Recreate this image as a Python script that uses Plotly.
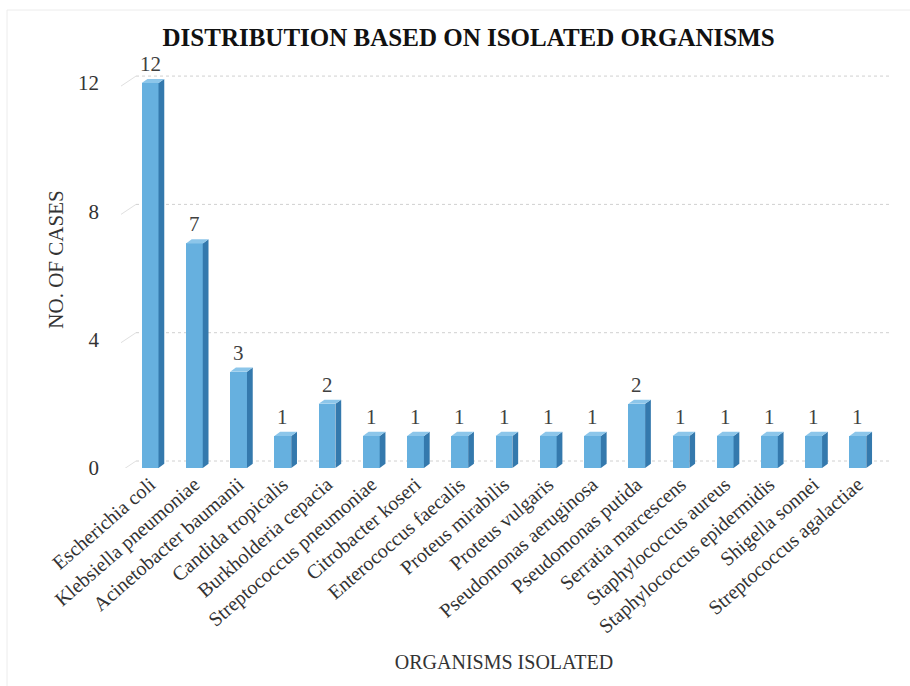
import plotly.graph_objects as go

# Isolated organisms and number of cases
organisms = [
    "Escherichia coli", "Klebsiella pneumoniae", "Acinetobacter baumanii",
    "Candida tropicalis", "Burkholderia cepacia", "Streptococcus pneumoniae",
    "Citrobacter koseri", "Enterococcus faecalis", "Proteus mirabilis",
    "Proteus vulgaris", "Pseudomonas aeruginosa", "Pseudomonas putida",
    "Serratia marcescens", "Staphylococcus aureus", "Staphylococcus epidermidis",
    "Shigella sonnei", "Streptococcus agalactiae",
]
cases = [12, 7, 3, 1, 2, 1, 1, 1, 1, 1, 1, 2, 1, 1, 1, 1, 1]
y_ticks = [0, 4, 8, 12]

FONT = "Liberation Serif"
FRONT = "#66B0DF"
SIDE = "#3479AD"
TOP = "#8CC6EA"
BAR_W = 0.38      # front face width (category units)
DEPTH_X = 0.13    # depth of the side face (category units)
DEPTH_Y = 0.13    # depth of the top face (value units)

# plot-area geometry in pixels
W, H = 910, 686
ML, MR, MT, MB = 128, 30, 51, 218
plot_w = W - ML - MR
plot_h = H - MT - MB

x_idx = list(range(len(organisms)))

fig = go.Figure()

fig.add_trace(go.Bar(
    x=x_idx, y=cases, width=BAR_W,
    marker=dict(color=FRONT, line=dict(width=0)),
    cliponaxis=False, hoverinfo="skip",
))

# value labels above each column
annotations = [
    dict(x=i, y=v, xref="x", yref="y", text=str(v), showarrow=False,
         xanchor="center", yanchor="bottom", yshift=5,
         font=dict(family=FONT, size=21, color="#404040"))
    for i, v in zip(x_idx, cases)
]

shapes = []


def px_to_paper_x(px):
    return (px - ML) / plot_w


def px_to_paper_y(py):
    return (H - MB - py) / plot_h


# back-wall gridlines with the short side-wall stubs
for v in y_ticks:
    shapes.append(dict(
        type="line", xref="paper", yref="y", ysizemode="pixel", yanchor=v,
        x0=px_to_paper_x(136), x1=px_to_paper_x(890), y0=7, y1=7,
        line=dict(color="#d0d0d0", width=1, dash="dot"), layer="below",
    ))
    shapes.append(dict(
        type="line", xref="paper", yref="y", ysizemode="pixel", yanchor=v,
        x0=px_to_paper_x(121), x1=px_to_paper_x(136), y0=-3, y1=7,
        line=dict(color="#e0e0e0", width=1), layer="below",
    ))

# side and top faces of each column
for i, v in zip(x_idx, cases):
    xr = i + BAR_W / 2
    xl = i - BAR_W / 2
    side = (f"M {xr},0 L {xr + DEPTH_X},{DEPTH_Y} L {xr + DEPTH_X},{v + DEPTH_Y} "
            f"L {xr},{v} Z")
    top = (f"M {xl},{v} L {xr},{v} L {xr + DEPTH_X},{v + DEPTH_Y} "
           f"L {xl + DEPTH_X},{v + DEPTH_Y} Z")
    shapes.append(dict(type="path", xref="x", yref="y", path=side,
                       fillcolor=SIDE, line=dict(width=0), layer="above"))
    shapes.append(dict(type="path", xref="x", yref="y", path=top,
                       fillcolor=TOP, line=dict(width=0), layer="above"))

# faint outer frame: only the top and left edges fall inside the page
frame = dict(color="#ececec", width=1)
shapes.append(dict(type="line", xref="paper", yref="paper",
                   x0=px_to_paper_x(7), x1=px_to_paper_x(915),
                   y0=px_to_paper_y(10), y1=px_to_paper_y(10),
                   line=frame, layer="below"))
shapes.append(dict(type="line", xref="paper", yref="paper",
                   x0=px_to_paper_x(7), x1=px_to_paper_x(7),
                   y0=px_to_paper_y(10), y1=px_to_paper_y(700),
                   line=frame, layer="below"))

fig.update_layout(
    width=W, height=H,
    margin=dict(l=ML, r=MR, t=MT, b=MB, autoexpand=False),
    paper_bgcolor="white", plot_bgcolor="white",
    showlegend=False, bargap=0,
    shapes=shapes, annotations=annotations,
    title=dict(
        text="<b>DISTRIBUTION BASED ON ISOLATED ORGANISMS</b>",
        x=0.515, xanchor="center", y=1 - 37 / H, yanchor="middle",
        font=dict(family=FONT, size=25, color="#111111"),
    ),
    xaxis=dict(
        range=[-0.5, len(organisms) - 0.5],
        tickmode="array", tickvals=x_idx, ticktext=organisms,
        tickangle=-41, showgrid=False, zeroline=False, showline=False,
        ticks="", tickfont=dict(family=FONT, size=20, color="#333333"),
        title=dict(text="ORGANISMS ISOLATED", standoff=18,
                   font=dict(family=FONT, size=20, color="#333333")),
    ),
    yaxis=dict(
        range=[0, 13], tickmode="array", tickvals=y_ticks,
        showgrid=False, zeroline=False, showline=False, ticks="",
        ticklabelstandoff=28,
        tickfont=dict(family=FONT, size=21, color="#333333"),
        title=dict(text="NO. OF CASES", standoff=8,
                   font=dict(family=FONT, size=21, color="#333333")),
    ),
)

fig.write_html("out.html")
